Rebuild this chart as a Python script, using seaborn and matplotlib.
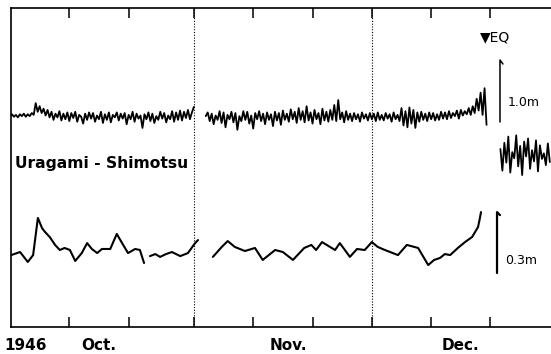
import numpy as np
import pandas as pd
import matplotlib
matplotlib.use("Agg")
import matplotlib.pyplot as plt
import seaborn as sns

# ---------------- data ----------------
# time axis: days after 1 Oct 1946
tick_days = [10, 20, 31, 41, 51, 61, 71, 81]          # Oct 11, Oct 21, Nov 1, ... Dec 21
month_days = [2.7, 15, 46.9, 76]
month_labels = ["1946", "Oct.", "Nov.", "Dec."]
month_starts = [31, 61]                               # Nov 1, Dec 1 (dotted)
eq_day = 79.2

# upper trace: sea level (cm) every 8 hours, starting 1 Oct
upper_cm = [
    3, 6, 2, 5, 1, 6, 3, 7, 2, 6, 3, 8, 5, 24, 10, 19, 8, 15, 4, 13, 1,
    10, -3, 7, 1, 11, -4, 7, -2, 9, -5, 8, 0, 10, -6, 5, 2, -9, 7, -3, 9, -1,
    8, -6, 4, -2, 10, -8, 6, -3, 9, -7, 5, 1, 9, -4, 7, -1, 8, -10, 5, -2, 10,
    -6, 7, -1, 4, -16, 6, -2, 9, -5, 7, -8, 3, -3, 10, -1, 8, -7, 4, -2, 11, -6,
    9, -3, 12, -4, 10, 0, 13, -2, 9, 18, np.nan, np.nan, np.nan, np.nan, np.nan,
    3, 9, -5, 7, -10, 4, -3, 11, -8, 9, -15, 5, -2, 10, -7, 8, -19, 3,
    -5, 11, -3, 10, -9, 4, -17, 8, -2, 11, -5, 7, -10, 9, -3, 6, -13, 10,
    -4, 8, -11, 12, -3, 7, -6, 14, -2, 10, -8, 16, -3, 11, -7, 19, -4, 9,
    -9, 13, -2, 8, -10, 15, -4, 10, -6, 13, -3, 21, -5, 29, -2, 9, -7, 11,
    -3, 7, -5, 8, -2, 6, -6, 9, -1, 6, -4, 8, -2, 7, -5, 9, -3, 5, -4, 8, -1,
    6, -6, 9, -2, 5, -5, 16, -12, 11, -15, 17, -9, 13, -16, 9, -6, 10, -3,
    7, -5, 9, -2, 8, -4, 6, -3, 10, -1, 9, -2, 11, 0, 8, 3, 12, -1,
    13, 4, 11, 6, 16, 5, 19, 8, 31, 12, 41, 5, 48, -11,
]
# upper trace after the earthquake (cm), every 8 hours from day 82.67
post_start_day = 82.67
post_cm = [-50, -85, -40, -72, -30, -88, -55, -65, -28, -78, -45, -92, -38,
           -62, -33, -82, -52, -70, -36, -86, -44, -66, -57, -76, -41, -71]

# lower trace: Uragami - Shimotsu difference (cm)
lower_day = [0.2, 1.7, 3.0, 3.9, 4.7, 5.4, 5.9, 6.7, 7.6, 8.4, 9.2, 10.1, 11.0,
             12.1, 13.0, 13.8, 14.7, 15.5, 16.9, 18.0, 18.9, 19.9, 21.1, 21.9,
             22.6, 23.1,
             23.6, 24.5, 25.3, 26.3, 27.3, 28.7, 30.0, 31.2, 31.7, 33.0,
             34.2, 35.7, 36.7, 37.9, 39.6, 41.3, 42.6, 44.7, 46.0, 47.7, 49.6,
             50.8, 51.6, 52.6, 54.8, 55.6, 57.3, 58.5, 59.8, 61.0, 62.0, 63.2,
             65.4, 66.9, 68.8, 70.5, 71.5, 72.5, 73.3, 74.2, 75.5, 76.7, 77.9,
             78.9, 79.2, 79.4]
lower_cm = [-2.5, -1.0, -5.9, -2.5, 15.8, 10.8, 8.9, 6.4, 2.5, 0.0, 1.0, 0.0, -5.4,
            -1.5, 3.4, 0.5, -1.5, 0.5, 0.5, 7.9, 3.4, -1.5, 0.5, 0.0,
            -6.4, np.nan,
            -3.0, -2.0, -3.4, -2.0, -1.0, -3.0, -1.5, 3.4, 4.9, np.nan,
            -3.4, 1.5, 4.4, 1.5, -0.5, 1.0, -4.9, 0.0, -1.0, -4.9, 1.0,
            2.5, 0.0, 3.9, 0.0, 3.4, -3.4, 0.5, 0.0, 3.9, 1.5, 0.0,
            -2.5, 2.5, 1.0, -7.4, -4.9, -3.9, -2.0, -2.5, 1.0, 3.9, 6.4,
            11.3, 15.5, 18.7]

# scale bars
upper_bar_m = 1.0
lower_bar_m = 0.3

# ---------------- layout / style constants ----------------
W, H = 551, 354
UPPER_BASE, UPPER_GAIN = 209, 0.62     # display units per cm
LOWER_BASE, LOWER_GAIN = 77, 2.03

sns.set_theme(style="white")
plt.rcParams["font.family"] = ["DejaVu Sans"]
plt.rcParams["text.color"] = "black"
plt.rcParams["xtick.color"] = "black"
plt.rcParams["xtick.labelcolor"] = "black"

fig = plt.figure(figsize=(W / 100, H / 100), dpi=100)
ax = fig.add_axes([11 / W, 27 / H, 540 / W, 319 / H])


def segments(days, vals, base, gain, name):
    df = pd.DataFrame({"day": days, "cm": vals})
    df["seg"] = df["cm"].isna().cumsum()
    df = df.dropna()
    df["y"] = base + df["cm"] * gain
    df["seg"] = name + df["seg"].astype(str)
    return df


up_days = np.arange(len(upper_cm)) / 3.0
post_days = post_start_day + np.arange(len(post_cm)) / 3.0
df_up = pd.concat([
    segments(up_days, upper_cm, UPPER_BASE, UPPER_GAIN, "u"),
    segments(post_days, post_cm, UPPER_BASE, UPPER_GAIN, "p"),
])
df_low = segments(lower_day, lower_cm, LOWER_BASE, LOWER_GAIN, "l")

sns.lineplot(data=df_up, x="day", y="y", units="seg", estimator=None,
             sort=False, color="black", lw=1.3, ax=ax)
sns.lineplot(data=df_low, x="day", y="y", units="seg", estimator=None,
             sort=False, color="black", lw=1.5, ax=ax)

for d in month_starts:
    ax.axvline(d, color="black", ls=(0, (1, 1.5)), lw=0.8)

# scale bars with hooks
bx1 = 82.6
b1_bot = UPPER_BASE - 4
b1_top = b1_bot + upper_bar_m * 100 * UPPER_GAIN
ax.plot([bx1, bx1, bx1 + 0.5], [b1_bot, b1_top, b1_top - 4], color="black", lw=1.1)
ax.text(83.9, b1_bot + 20, f"{upper_bar_m:.1f}m", fontsize=9, va="center", ha="left")

bx2 = 82.1
b2_bot = 54
b2_top = b2_bot + lower_bar_m * 100 * LOWER_GAIN
ax.plot([bx2, bx2, bx2 + 0.5], [b2_bot, b2_top, b2_top - 3], color="black", lw=1.6)
ax.text(83.4, b2_bot + 13, f"{lower_bar_m:.1f}m", fontsize=9, va="center", ha="left")

ax.text(eq_day, 290, "▼EQ", fontsize=10, va="center", ha="left")
ax.text(0.84, 159, "Uragami - Shimotsu", fontsize=11.2, fontweight="bold",
        va="baseline", ha="left")

ax.set_xlim(0.17, 91.2)
ax.set_ylim(0, 319)
ax.set_xlabel("")
ax.set_ylabel("")

ax.set_xticks(tick_days)
ax.set_xticklabels([])
ax.set_xticks(month_days, minor=True)
ax.set_xticklabels(month_labels, minor=True, fontsize=11, fontweight="bold")
ax.tick_params(axis="x", which="major", direction="in", length=7, width=1.1,
               top=True, bottom=True, color="black")
ax.tick_params(axis="x", which="minor", length=0, pad=8)
ax.set_yticks([])

for s in ["left", "top", "bottom"]:
    ax.spines[s].set_visible(True)
    ax.spines[s].set_color("black")
    ax.spines[s].set_linewidth(1.2)
ax.spines["right"].set_visible(False)

fig.savefig("out.png", dpi=100)
